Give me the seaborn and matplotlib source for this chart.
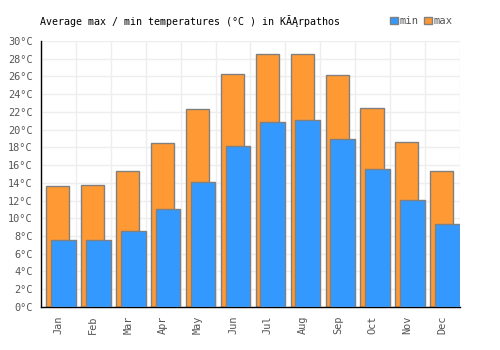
import numpy as np
import pandas as pd
import seaborn as sns
import matplotlib.pyplot as plt
from matplotlib.patches import Patch

months = ['Jan', 'Feb', 'Mar', 'Apr', 'May', 'Jun', 'Jul', 'Aug', 'Sep', 'Oct', 'Nov', 'Dec']
temp_max = [13.6, 13.8, 15.3, 18.5, 22.3, 26.3, 28.5, 28.5, 26.2, 22.4, 18.6, 15.3]
temp_min = [7.6, 7.6, 8.6, 11.0, 14.1, 18.2, 20.9, 21.1, 18.9, 15.6, 12.1, 9.4]
yticks = list(range(0, 31, 2))

data = pd.DataFrame({'month': months, 'max': temp_max, 'min': temp_min})

sns.set_style('white')
plt.rcParams['font.family'] = ['DejaVu Sans Mono']

fig = plt.figure(figsize=(5, 3.5), dpi=100)
ax = fig.add_axes([0.082, 0.123, 0.838, 0.76])

blue = '#3399ff'
orange = '#ff9933'
edge = '#808080'

sns.barplot(data=data, x='month', y='max', color=orange, width=0.66,
            edgecolor=edge, linewidth=1, saturation=1, ax=ax, zorder=2)
n_max = len(ax.patches)
sns.barplot(data=data, x='month', y='min', color=blue, width=0.71,
            edgecolor=edge, linewidth=1, saturation=1, ax=ax, zorder=3)

# shift bars inside each month slot like the original
for i, p in enumerate(ax.patches):
    dx = -0.02 if i < n_max else 0.14
    p.set_x(p.get_x() + dx)

ax.set_xlim(-0.5, 11.5)
ax.set_ylim(0, 30)
ax.set_yticks(yticks)
ax.set_yticklabels([f'{t}°C' for t in yticks])
ax.set_xticks(np.arange(-0.5, 12, 1), minor=True)
ax.set_xticks(range(12))
ax.set_xticklabels(months, rotation=90)
ax.set_xlabel('')
ax.set_ylabel('')

ax.grid(False)
ax.grid(True, axis='y', color='#eeeeee', linewidth=1, zorder=0)
ax.grid(True, axis='x', which='minor', color='#eeeeee', linewidth=1, zorder=0)
ax.set_axisbelow(True)
ax.tick_params(axis='both', which='both', length=0, labelsize=7.4, colors='#555555', pad=6)

for s in ['top', 'right']:
    ax.spines[s].set_visible(False)
for s in ['left', 'bottom']:
    ax.spines[s].set_color('black')
    ax.spines[s].set_linewidth(1)

fig.text(0.08, 0.94, 'Average max / min temperatures (°C ) in KĂĄrpathos',
         fontsize=7.2, color='black', ha='left', va='center')

handles = [Patch(facecolor=blue, edgecolor=edge), Patch(facecolor=orange, edgecolor=edge)]
fig.legend(handles, ['min', 'max'], loc='center right', bbox_to_anchor=(0.914, 0.94),
           ncol=2, frameon=False, fontsize=7.6, handlelength=0.7, handleheight=0.7,
           handletextpad=0.2, columnspacing=0.5, labelcolor='#555555', borderaxespad=0)

fig.savefig('out.png', dpi=100)
